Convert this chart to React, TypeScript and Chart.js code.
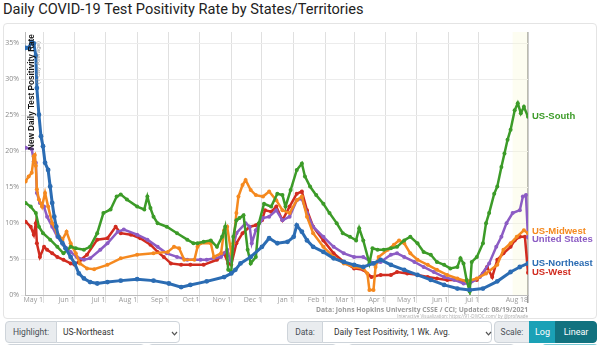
import React, { useEffect, useRef } from "react";
import { Chart, registerables } from "chart.js";
Chart.register(...registerables);

const TITLE = "Daily COVID-19 Test Positivity Rate by States/Territories";
const Y_TITLE = "New Daily Test Positivity Rate";
const Y_SUBTITLE = "(7-day Average)";
const CREDIT = "Data: Johns Hopkins University CSSE / CCI; Updated: 08/19/2021";
const CREDIT2 = "Interactive Visualization: https://91-DIVOC.com/ by @profwade";

// x values are days since May 1, 2020
const tickDays = [0, 31, 61, 92, 123, 153, 184, 214, 245, 276, 304, 335, 365, 396, 426, 474];
const tickLabels = ["May 1", "Jun 1", "Jul 1", "Aug 1", "Sep 1", "Oct 1", "Nov 1", "Dec 1", "Jan 1", "Feb 1", "Mar 1", "Apr 1", "May 1", "Jun 1", "Jul 1", "Aug 18"];
const yTicks = [0, 5, 10, 15, 20, 25, 30, 35];

const seriesNames = ["US-Northeast", "US-South", "US-Midwest", "United States", "US-West"];
const seriesColors = ["#2b6cb3", "#3c9b28", "#f5891f", "#8c5cc4", "#d12b1f"];

const northeastDays = [-17, -14, -11, -9, -7, -6, -4, -2, 0, 2, 5, 7, 9, 11, 13, 15, 19, 22, 27, 31, 35, 40, 46, 53, 63, 76, 92, 108, 123, 135, 144, 160, 177, 184, 188, 193, 203, 214, 221, 229, 239, 245, 248, 253, 258, 264, 274, 284, 294, 304, 313, 323, 330, 340, 353, 366, 379, 392, 405, 417, 430, 444, 457, 466, 474];
const northeastVals = [34.4, 34.4, 35.2, 35.0, 33.3, 28.8, 25.1, 22.1, 20.7, 18.4, 17.4, 15.1, 12.8, 10.9, 9.5, 8.1, 7.2, 6.5, 5.3, 4.4, 3.0, 2.3, 1.8, 1.6, 1.8, 2.0, 2.2, 2.0, 1.6, 1.1, 1.4, 1.9, 2.5, 3.0, 3.5, 4.4, 5.3, 6.7, 7.9, 7.2, 7.4, 8.1, 9.7, 8.8, 7.6, 6.7, 6.0, 5.1, 4.6, 4.2, 3.9, 4.4, 4.9, 4.2, 3.5, 2.8, 2.1, 1.4, 0.9, 0.7, 0.9, 1.9, 3.2, 3.9, 4.4];

const southDays = [-17, -12, -7, -4, 0, 7, 14, 20, 27, 32, 40, 46, 53, 59, 66, 72, 76, 82, 92, 99, 102, 105, 108, 112, 121, 131, 141, 147, 151, 157, 164, 170, 175, 178, 181, 184, 186, 189, 192, 196, 200, 203, 208, 211, 216, 223, 229, 234, 237, 242, 248, 253, 256, 261, 267, 274, 280, 287, 293, 300, 306, 309, 313, 319, 322, 327, 333, 340, 346, 353, 359, 366, 372, 379, 385, 392, 398, 405, 408, 411, 414, 417, 419, 424, 430, 433, 436, 441, 444, 448, 451, 454, 457, 461, 464, 467, 470, 474];
const southVals = [12.8, 12.3, 11.4, 9.5, 8.6, 7.7, 6.7, 5.8, 6.7, 6.5, 6.3, 6.7, 8.6, 11.4, 11.9, 13.7, 14.0, 13.3, 12.3, 11.9, 13.7, 12.1, 10.9, 10.0, 9.5, 8.6, 7.7, 7.2, 7.2, 7.4, 7.6, 6.7, 8.1, 9.5, 3.5, 3.2, 8.1, 10.4, 10.7, 11.1, 6.3, 4.4, 5.3, 10.0, 12.7, 12.3, 14.1, 13.9, 12.3, 14.6, 17.4, 18.3, 16.5, 15.1, 13.9, 12.7, 11.4, 10.0, 8.6, 8.1, 7.6, 9.3, 7.6, 4.4, 6.5, 6.3, 6.3, 6.5, 6.7, 7.6, 8.1, 7.2, 6.0, 5.6, 4.6, 4.2, 3.7, 3.9, 5.1, 4.4, 2.1, 0.5, 4.6, 5.3, 7.2, 10.0, 11.4, 14.1, 15.1, 17.8, 19.7, 21.6, 23.0, 25.7, 26.7, 25.3, 26.2, 24.8];

const midwestDays = [-17, -14, -11, -9, -8, -7, -6, -4, -1, 2, 5, 9, 14, 19, 23, 27, 32, 36, 43, 50, 63, 76, 92, 108, 122, 128, 133, 138, 148, 151, 154, 164, 167, 174, 177, 180, 184, 186, 189, 191, 195, 198, 203, 208, 215, 221, 228, 234, 241, 248, 253, 258, 264, 274, 284, 294, 304, 313, 317, 319, 323, 325, 328, 337, 343, 348, 353, 359, 366, 376, 385, 395, 405, 414, 424, 433, 444, 450, 457, 463, 470, 474];
const midwestVals = [15.8, 16.5, 17.0, 19.3, 19.5, 18.0, 14.7, 13.3, 12.3, 14.2, 12.3, 10.0, 8.6, 7.7, 8.8, 7.2, 5.8, 4.4, 3.7, 3.6, 4.2, 5.1, 5.6, 5.8, 6.0, 6.7, 6.5, 4.9, 4.9, 6.7, 7.2, 7.2, 5.3, 5.8, 9.0, 9.5, 5.8, 7.2, 11.4, 13.7, 15.3, 16.0, 14.6, 13.9, 13.7, 14.4, 13.2, 11.8, 11.4, 13.2, 13.7, 10.9, 8.6, 6.7, 5.3, 4.4, 3.9, 3.7, 3.0, 0.7, 0.7, 3.9, 5.3, 6.3, 7.0, 7.6, 7.2, 5.8, 4.9, 4.2, 3.5, 2.8, 2.3, 1.9, 2.3, 3.0, 4.2, 6.3, 7.2, 8.1, 9.0, 8.6];

const usDays = [-17, -11, -9, -7, -6, -3, 1, 4, 9, 14, 20, 27, 33, 40, 46, 56, 63, 73, 79, 92, 102, 112, 121, 131, 141, 154, 160, 174, 180, 183, 189, 198, 202, 204, 208, 215, 221, 228, 234, 241, 248, 253, 258, 264, 274, 284, 294, 304, 313, 323, 330, 340, 346, 353, 363, 372, 382, 392, 402, 411, 417, 427, 436, 443, 448, 453, 459, 466, 469, 472, 474];
const usVals = [20.5, 20.3, 18.6, 18.4, 14.2, 12.8, 12.3, 10.9, 9.5, 8.1, 7.0, 6.0, 5.3, 4.9, 5.1, 6.3, 7.2, 8.8, 9.1, 8.4, 7.7, 6.7, 5.8, 5.3, 4.9, 4.9, 4.9, 5.3, 6.3, 4.9, 8.6, 10.0, 9.5, 7.2, 9.0, 10.7, 10.9, 11.8, 10.4, 10.9, 13.2, 13.4, 11.4, 9.5, 8.1, 6.7, 5.8, 5.3, 5.3, 4.4, 4.6, 5.6, 5.8, 5.3, 4.6, 3.9, 3.2, 2.5, 2.1, 1.6, 1.6, 2.5, 4.4, 6.7, 8.1, 10.0, 11.4, 11.8, 13.7, 13.9, 8.0];

const westDays = [-17, -12, -9, -7, -6, -3, 1, 4, 9, 14, 20, 27, 31, 37, 43, 53, 63, 71, 76, 86, 95, 105, 112, 118, 125, 135, 144, 157, 170, 177, 181, 184, 189, 195, 202, 208, 214, 217, 223, 228, 234, 241, 248, 253, 258, 264, 274, 284, 294, 304, 313, 321, 330, 340, 346, 356, 366, 376, 385, 395, 405, 414, 424, 430, 434, 439, 444, 450, 457, 461, 466, 471, 474];
const westVals = [10.2, 9.5, 8.4, 10.0, 7.2, 5.3, 6.7, 6.3, 5.8, 5.3, 4.9, 4.4, 4.2, 4.9, 5.6, 7.7, 7.9, 9.5, 8.6, 8.4, 7.9, 7.0, 6.0, 5.3, 4.4, 4.2, 4.2, 4.2, 4.9, 5.8, 4.4, 4.2, 7.2, 8.6, 9.5, 9.7, 10.4, 11.8, 11.6, 12.3, 10.4, 12.3, 14.1, 14.4, 11.8, 9.5, 7.6, 5.8, 4.6, 3.7, 3.5, 2.5, 2.8, 2.8, 3.2, 3.0, 2.8, 2.5, 2.3, 2.1, 2.1, 1.9, 2.1, 3.0, 3.9, 2.5, 4.9, 5.8, 6.7, 7.6, 8.1, 8.1, 3.1];

const seriesDays = [northeastDays, southDays, midwestDays, usDays, westDays];
const seriesVals = [northeastVals, southVals, midwestVals, usVals, westVals];
const HIGHLIGHT = "US-Northeast";
const RECENT_START = 459;

const decorPlugin = {
  id: "decor",
  beforeDatasetsDraw(chart: any) {
    const { ctx, chartArea, scales } = chart;
    const x0 = scales.x.getPixelForValue(RECENT_START);
    ctx.save();
    ctx.fillStyle = "rgba(250,250,215,0.35)";
    ctx.fillRect(x0, chartArea.top, chartArea.right - x0, chartArea.bottom - chartArea.top);
    ctx.restore();
  },
  afterDatasetsDraw(chart: any) {
    const { ctx, chartArea } = chart;
    ctx.save();
    ctx.translate(chartArea.left + 8.5, chartArea.top + 118);
    ctx.rotate(-Math.PI / 2);
    ctx.textAlign = "left";
    ctx.textBaseline = "alphabetic";
    ctx.fillStyle = "#111";
    ctx.font = "bold 8.2px 'Liberation Sans'";
    ctx.fillText(Y_TITLE, 0, 0, 117);
    ctx.restore();
    ctx.save();
    ctx.translate(chartArea.left + 15, chartArea.top + 52);
    ctx.rotate(-Math.PI / 2);
    ctx.textAlign = "left";
    ctx.fillStyle = "#999";
    ctx.font = "6px 'Liberation Sans'";
    ctx.fillText(Y_SUBTITLE, 0, 0, 50);
    ctx.restore();

    const items: any[] = [];
    chart.data.datasets.forEach((ds: any, i: number) => {
      const meta = chart.getDatasetMeta(i);
      const pt = meta.data[meta.data.length - 1];
      items.push({ y: pt.y, x: pt.x, text: ds.label, color: ds.borderColor });
    });
    items.sort((a, b) => a.y - b.y);
    for (let k = 0; k < 4; k++) {
      for (let i = 1; i < items.length; i++) {
        const gap = items[i].y - items[i - 1].y;
        if (gap < 7.5) {
          const d = (7.5 - gap) / 2;
          items[i].y += d;
          items[i - 1].y -= d;
        }
      }
    }
    ctx.save();
    ctx.font = "bold 9.5px 'Liberation Sans'";
    ctx.textBaseline = "middle";
    ctx.textAlign = "left";
    items.forEach((it) => {
      ctx.fillStyle = it.color;
      ctx.fillText(it.text, chartArea.right + 4, it.y);
    });
    ctx.restore();
  },
  afterDraw(chart: any) {
    const { ctx, chartArea } = chart;
    ctx.save();
    ctx.textAlign = "right";
    ctx.fillStyle = "#9a9a9a";
    ctx.font = "bold 7.5px 'Open Sans'";
    ctx.fillText(CREDIT, chartArea.right, chartArea.bottom + 17, 212);
    ctx.font = "4.5px 'Open Sans'";
    ctx.fillStyle = "#aaa";
    ctx.fillText(CREDIT2, chartArea.right, chartArea.bottom + 22.5, 143);
    ctx.restore();
  },
};

function ChartView() {
  const ref = useRef<HTMLCanvasElement | null>(null);
  useEffect(() => {
    if (!ref.current) return;
    const datasets = seriesNames.map((name, i) => {
      const hl = name === HIGHLIGHT;
      return {
        label: name,
        data: seriesDays[i].map((d, j) => ({ x: d, y: seriesVals[i][j] })),
        borderColor: seriesColors[i],
        backgroundColor: seriesColors[i],
        pointBackgroundColor: seriesColors[i],
        pointBorderWidth: 0,
        pointRadius: hl ? 2.4 : 2.0,
        pointHoverRadius: 0,
        borderWidth: hl ? 3 : 2.5,
        tension: 0,
        fill: false,
      };
    });
    const chart = new Chart(ref.current, {
      type: "line",
      data: { datasets },
      plugins: [decorPlugin],
      options: {
        animation: false,
        responsive: false,
        maintainAspectRatio: false,
        layout: { padding: { left: 0, right: 72, top: 10, bottom: 13 } },
        plugins: { legend: { display: false }, tooltip: { enabled: false } },
        scales: {
          x: {
            type: "linear",
            min: -17.6,
            max: 474,
            afterBuildTicks: (s: any) => {
              s.ticks = tickDays.map((v) => ({ value: v }));
            },
            afterFit: (s: any) => {
              s.height = 12;
            },
            ticks: {
              autoSkip: false,
              maxRotation: 0,
              align: "end",
              padding: -7,
              font: { size: 7, family: "'Open Sans'" },
              color: "#9a9a9a",
              callback: (_v: any, i: number) => tickLabels[i],
            },
            grid: {
              color: (c: any) => (c.tick && c.tick.value === 474 ? "#9a9a9a" : "#e0e0e0"),
              lineWidth: (c: any) => (c.tick && c.tick.value === 474 ? 1.5 : 1),
              tickLength: 8,
            },
            border: { color: "#bbb" },
          },
          y: {
            min: 0,
            max: 36.6,
            afterBuildTicks: (s: any) => {
              s.ticks = yTicks.map((v) => ({ value: v }));
            },
            afterFit: (s: any) => {
              s.width = 25;
            },
            ticks: {
              padding: 2,
              font: { size: 7, family: "'Open Sans'" },
              color: "#8a8a8a",
              callback: (v: any) => v + "%",
            },
            grid: { color: "#ececec", tickLength: 4 },
            border: { color: "#bbb" },
          },
        },
      } as any,
    });
    return () => chart.destroy();
  }, []);
  return (
    <canvas
      ref={ref}
      width={600}
      height={298}
      style={{ position: "absolute", left: 0, top: 22, width: 600, height: 298 }}
    />
  );
}

const Chevron = ({ left }: { left: number }) => (
  <svg width="7" height="5" viewBox="0 0 7 5" style={{ position: "absolute", left, top: 9 }}>
    <path d="M1 1 L3.5 3.8 L6 1" stroke="#555" strokeWidth="1.2" fill="none" />
  </svg>
);

const box = (l: number, w: number, extra: any = {}) => ({
  position: "absolute" as const,
  left: l,
  top: 0,
  width: w,
  height: 22,
  boxSizing: "border-box" as const,
  border: "1px solid #ced4da",
  display: "flex",
  alignItems: "center",
  fontSize: 8.5,
  whiteSpace: "nowrap" as const,
  color: "#495057",
  ...extra,
});

export default function App() {
  return (
    <div style={{ position: "fixed", left: 0, top: 0, width: 600, height: 345, background: "#fff", overflow: "hidden", fontFamily: "Roboto, 'Liberation Sans', sans-serif" }}>
      <div style={{ position: "absolute", left: 3, top: 0, fontSize: 14.6, lineHeight: "18px", color: "#222", whiteSpace: "nowrap" }}>{TITLE}</div>
      <div style={{ position: "absolute", left: 3, top: 23, width: 594, height: 296, border: "1px solid #e4e4e4", borderRadius: 4, boxSizing: "border-box" }} />
      <ChartView />
      <div style={{ position: "absolute", left: 0, top: 321, width: 600, height: 22 }}>
        <div style={box(5, 52, { background: "#e9ecef", borderRadius: "4px 0 0 4px", justifyContent: "center" })}>Highlight:</div>
        <div style={box(56, 124, { background: "#fff", borderRadius: "0 4px 4px 0", paddingLeft: 6, color: "#333" })}>
          US-Northeast
          <Chevron left={114} />
        </div>
        <div style={box(287, 36, { background: "#e9ecef", borderRadius: "4px 0 0 4px", justifyContent: "center" })}>Data:</div>
        <div style={box(322, 170, { background: "#fff", borderRadius: "0 4px 4px 0", paddingLeft: 11, color: "#333" })}>
          Daily Test Positivity, 1 Wk. Avg.
          <Chevron left={162} />
        </div>
        <div style={box(494, 36, { background: "#e9ecef", borderRadius: "4px 0 0 4px", justifyContent: "center" })}>Scale:</div>
        <div style={box(529, 27, { background: "#1aa1b6", border: "1px solid #1aa1b6", color: "#fff", justifyContent: "center", fontSize: 9 })}>Log</div>
        <div style={box(555, 42, { background: "#12727f", border: "1px solid #12727f", color: "#fff", justifyContent: "center", borderRadius: "0 4px 4px 0", fontSize: 9 })}>Linear</div>
      </div>
      <div style={{ position: "absolute", left: 0, top: 344, width: 600, height: 10 }}>
        <div style={{ position: "absolute", left: 6, top: 0, width: 137, height: 10, border: "1px solid #ced4da", borderRadius: 4 }} />
        <div style={{ position: "absolute", left: 148, top: 0, width: 187, height: 10, border: "1px solid #ced4da", borderRadius: 4 }} />
        <div style={{ position: "absolute", left: 348, top: 0, width: 165, height: 10, border: "1px solid #ced4da", borderRadius: 4 }} />
        <div style={{ position: "absolute", left: 542, top: 0, width: 56, height: 10, background: "#7ccbd6", borderRadius: 4 }} />
      </div>
    </div>
  );
}
